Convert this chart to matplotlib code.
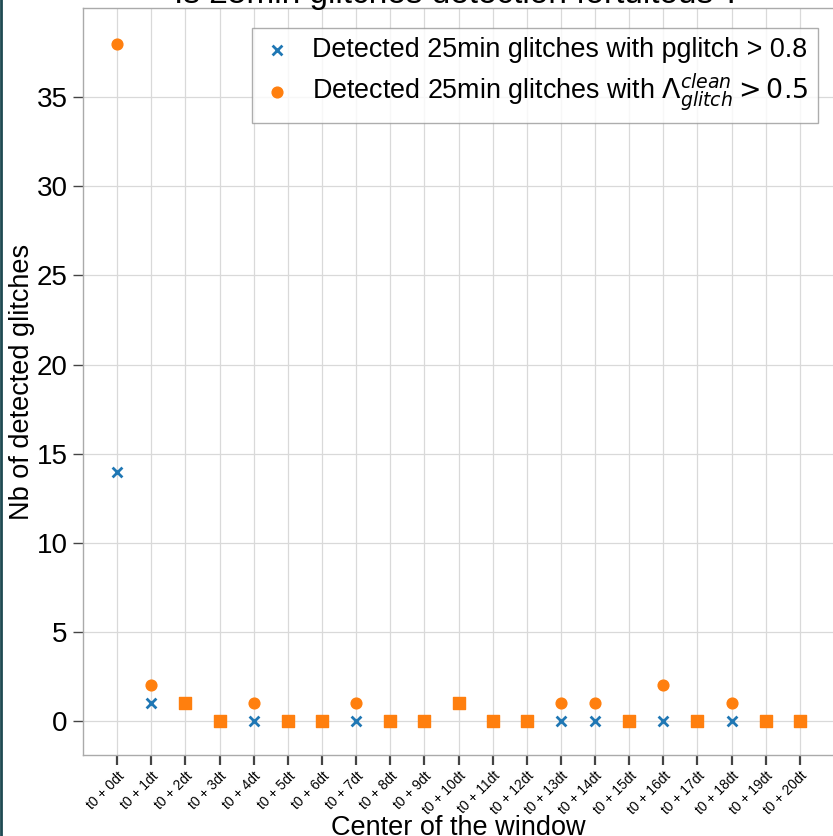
import numpy as np
import matplotlib.pyplot as plt
from matplotlib.lines import Line2D

plt.rcParams.update({"font.family": ["Liberation Sans", "DejaVu Sans"],
                     "mathtext.fontset": "dejavusans"})

offsets = list(range(21))
tick_labels = [f"t0 + {k}dt" for k in offsets]
n_pglitch = [14, 1, 1, 0, 0, 0, 0, 0, 0, 0, 1, 0, 0, 0, 0, 0, 0, 0, 0, 0, 0]
n_lambda = [38, 2, 1, 0, 1, 0, 0, 1, 0, 0, 1, 0, 0, 1, 1, 0, 2, 0, 1, 0, 0]

BLUE, ORANGE = "#1f77b4", "#ff7f0e"

fig = plt.figure(figsize=(8.33, 8.36), dpi=100)
ax = fig.add_axes([83 / 833, 1 - 755 / 836, 751 / 833, 747 / 836])

ax.grid(color="#d9d9d9", lw=0.9)
ax.set_axisbelow(True)

x = np.array(offsets)
p = np.array(n_pglitch)
lam = np.array(n_lambda)
same = p == lam

ax.scatter(x, p, marker="x", s=50, color=BLUE, lw=2, zorder=3,
           label="Detected 25min glitches with pglitch > 0.8")
ax.scatter(x[~same], lam[~same], marker="o", s=60, color=ORANGE, zorder=4,
           label=r"Detected 25min glitches with $\Lambda_{glitch}^{clean} > 0.5$")
# where both counts agree the markers overlap into a square
ax.scatter(x[same], lam[same], marker="s", s=70, color=ORANGE, zorder=4)

ax.set_xlim(-1, 21)
ax.set_ylim(-1.9, 40)
ax.set_yticks(range(0, 36, 5))
ax.set_xticks(offsets)
ax.set_xticklabels(tick_labels, rotation=45, ha="right", rotation_mode="anchor",
                   fontsize=10)
ax.tick_params(axis="x", length=7, width=1.6, color="#444444", pad=3)
ax.tick_params(axis="y", length=7, width=1.0, color="#444444", labelsize=20, pad=4)
for s in ax.spines.values():
    s.set_color("#aaaaaa")
    s.set_linewidth(1.0)

ax.set_xlabel("Center of the window", fontsize=19.5, labelpad=-2)
ax.set_ylabel("Nb of detected glitches", fontsize=19.5, labelpad=1)

leg = ax.legend(loc="upper right", bbox_to_anchor=((818 - 83) / 751, 1 - 20 / 747),
                borderaxespad=0, fontsize=19.4,
                frameon=True, fancybox=False, edgecolor="#999999",
                handlelength=1.2, handletextpad=0.7, borderpad=0.35,
                labelspacing=0.3)
leg.get_frame().set_linewidth(1.0)

fig.text(458 / 833, 1 - 3 / 836, "Is 25min glitches detection fortuitous ?",
         ha="center", va="baseline", fontsize=24)

fig.add_artist(Line2D([0.001, 0.001], [0, 1], transform=fig.transFigure,
                      color="#1e4a52", lw=2))

fig.savefig("out.png", dpi=100)
